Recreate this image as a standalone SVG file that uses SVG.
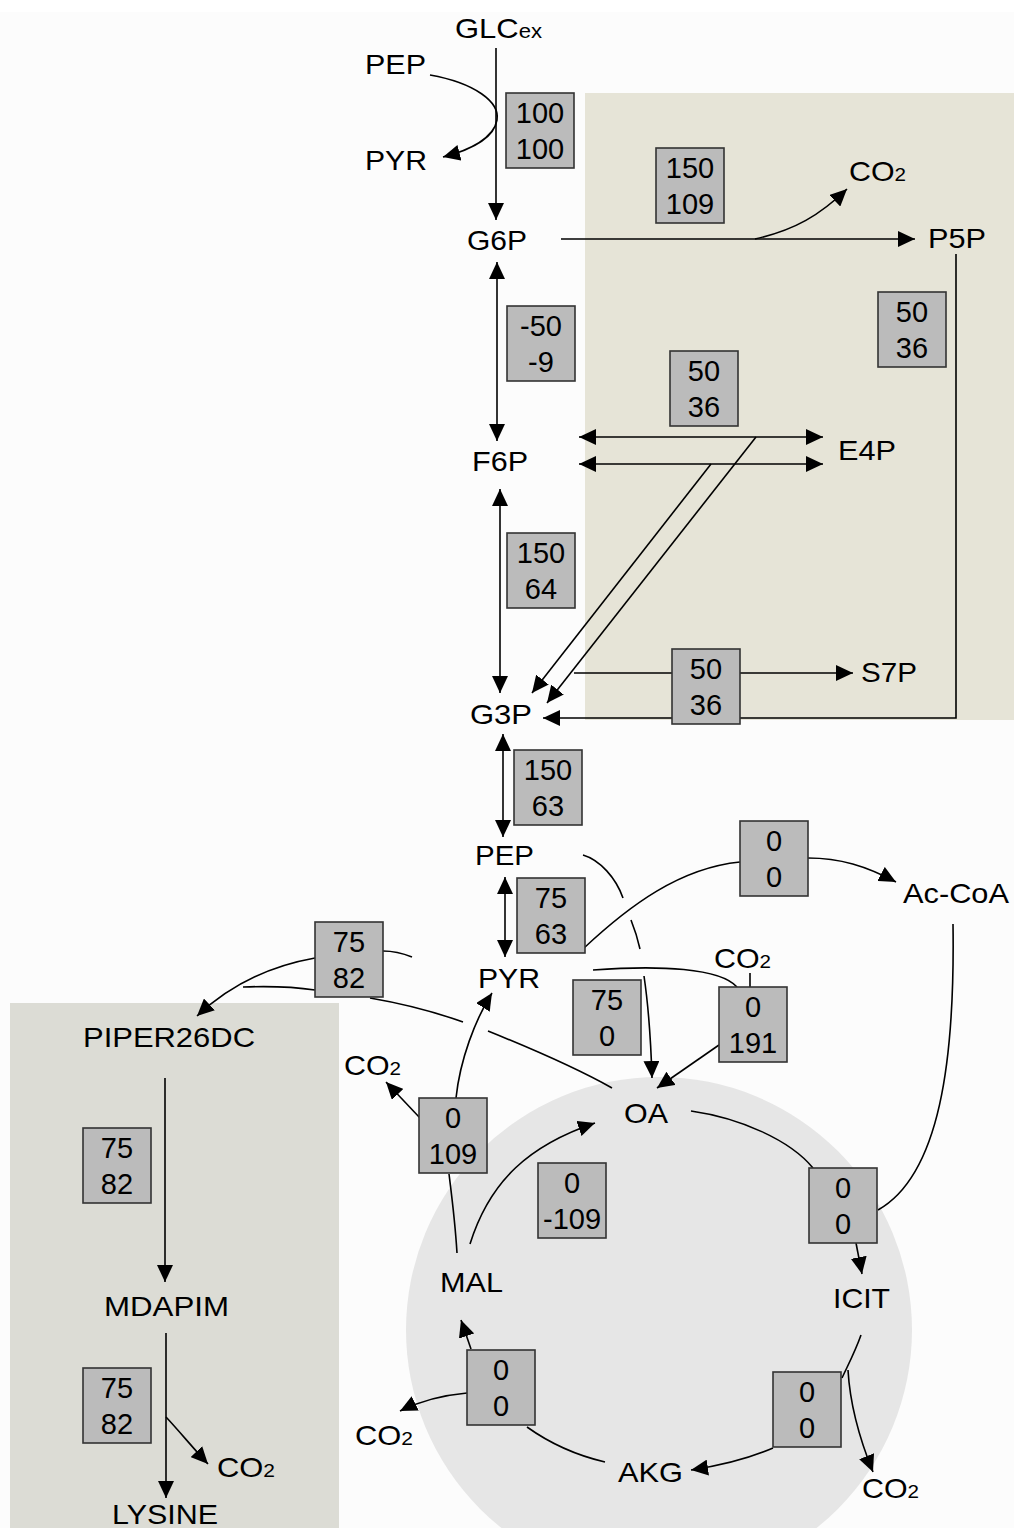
<svg xmlns="http://www.w3.org/2000/svg" width="1014" height="1528" viewBox="0 0 1014 1528">
<defs>
<style>
.lbl{font-family:"Liberation Sans",Arial,sans-serif;font-size:28px;fill:#000}
.num{font-family:"Liberation Sans",Arial,sans-serif;font-size:29px;fill:#000;text-anchor:middle}
.box{fill:#bbbbbb;stroke:#333;stroke-width:1.6}
.ln{fill:none;stroke:#000;stroke-width:1.6}
.a{marker-end:url(#ah)}
.aa{marker-end:url(#ah);marker-start:url(#ah)}
</style>
<marker id="ah" viewBox="0 0 17 16" refX="17" refY="8" markerWidth="17" markerHeight="16" markerUnits="userSpaceOnUse" orient="auto-start-reverse">
<path d="M0,0 L17,8 L0,16 z" fill="#000"/>
</marker>
</defs>
<rect x="0" y="0" width="1014" height="1528" fill="#fcfcfc"/>
<rect x="0" y="0" width="1014" height="12" fill="#ffffff"/>
<g id="regions">
<rect x="585" y="93" width="429" height="627" fill="#e6e4d7"/>
<rect x="10" y="1003" width="329" height="525" fill="#dcdcd5"/>
<circle cx="659" cy="1330" r="253" fill="#e6e6e6"/>
</g>
<g id="connectors">
<path class="ln a" d="M496,48 L496,220"/>
<path class="ln a" d="M430,75 C475,83 500,102 497,120 C494,138 470,150 443,157"/>
<path class="ln a" d="M561,239 L915,239"/>
<path class="ln a" d="M755,239 C795,230 820,215 847,189"/>
<path class="ln a" d="M956,254 L956,718 L543,718"/>
<path class="ln a" d="M574,673 L853,673"/>
<path class="ln aa" d="M579,437 L823,437"/>
<path class="ln aa" d="M579,464 L823,464"/>
<path class="ln a" d="M756,437 L547,703"/>
<path class="ln a" d="M711,464 L532,693"/>
<path class="ln aa" d="M497,262 L497,441"/>
<path class="ln aa" d="M500,489 L500,693"/>
<path class="ln aa" d="M503,734 L503,837"/>
<path class="ln aa" d="M505,877 L505,957"/>
<path class="ln" d="M584,948 C630,905 680,868 740,862"/>
<path class="ln a" d="M808,858 C840,858 866,866 896,882"/>
<path class="ln" d="M953,924 C955,1060 940,1175 878,1210"/>
<path class="ln" d="M583,855 C600,860 616,878 623,898"/>
<path class="ln" d="M631,920 C635,930 638,940 640,949"/>
<path class="ln a" d="M644,976 C649,1010 651,1045 652,1078"/>
<path class="ln a" d="M719,1045 L657,1088"/>
<path class="ln" d="M593,970 C660,965 720,968 737,987"/>
<path class="ln" d="M750,973 L750,987"/>
<path class="ln" d="M412,957 C402,953 392,951 383,951"/>
<path class="ln a" d="M315,958 C270,966 230,985 197,1016"/>
<path class="ln" d="M243,987 C270,986 295,987 315,990"/>
<path class="ln" d="M370,998 C405,1004 435,1012 463,1022"/>
<path class="ln" d="M488,1031 C540,1052 580,1070 612,1088"/>
<path class="ln" d="M457,1253 C455,1220 451,1190 449,1174"/>
<path class="ln a" d="M456,1098 C460,1060 475,1020 492,993"/>
<path class="ln a" d="M420,1118 L386,1082"/>
<path class="ln a" d="M470,1244 C490,1180 530,1145 595,1123"/>
<path class="ln" d="M691,1111 C740,1118 790,1140 813,1168"/>
<path class="ln a" d="M856,1243 L862,1274"/>
<path class="ln" d="M861,1335 C855,1352 848,1365 842,1378"/>
<path class="ln a" d="M848,1370 C850,1405 860,1440 873,1472"/>
<path class="ln a" d="M773,1448 C750,1458 725,1465 691,1470"/>
<path class="ln" d="M605,1462 C575,1455 548,1442 527,1427"/>
<path class="ln a" d="M471,1349 L461,1320"/>
<path class="ln a" d="M467,1393 C445,1395 422,1400 400,1411"/>
<path class="ln a" d="M165,1078 L165,1282"/>
<path class="ln a" d="M166,1333 L166,1498"/>
<path class="ln a" d="M166,1417 C180,1432 193,1448 208,1464"/>
</g>
<g id="nodes">
<g id="n-glcex"><text class="lbl" x="455" y="38" textLength="87" lengthAdjust="spacingAndGlyphs">GLC<tspan font-size="20">ex</tspan></text></g>
<g id="n-pep1"><text class="lbl" x="365" y="74" textLength="61" lengthAdjust="spacingAndGlyphs">PEP</text></g>
<g id="n-pyr1"><text class="lbl" x="365" y="170" textLength="62" lengthAdjust="spacingAndGlyphs">PYR</text></g>
<g id="n-g6p"><text class="lbl" x="467" y="250" textLength="60" lengthAdjust="spacingAndGlyphs">G6P</text></g>
<g id="n-p5p"><text class="lbl" x="928" y="248" textLength="58" lengthAdjust="spacingAndGlyphs">P5P</text></g>
<g id="n-co2a"><text class="lbl" x="849" y="181" textLength="57" lengthAdjust="spacingAndGlyphs">CO<tspan font-size="19">2</tspan></text></g>
<g id="n-f6p"><text class="lbl" x="472" y="471" textLength="56" lengthAdjust="spacingAndGlyphs">F6P</text></g>
<g id="n-e4p"><text class="lbl" x="838" y="460" textLength="58" lengthAdjust="spacingAndGlyphs">E4P</text></g>
<g id="n-s7p"><text class="lbl" x="861" y="682" textLength="56" lengthAdjust="spacingAndGlyphs">S7P</text></g>
<g id="n-g3p"><text class="lbl" x="470" y="724" textLength="62" lengthAdjust="spacingAndGlyphs">G3P</text></g>
<g id="n-pep2"><text class="lbl" x="475" y="865" textLength="59" lengthAdjust="spacingAndGlyphs">PEP</text></g>
<g id="n-pyr2"><text class="lbl" x="478" y="988" textLength="62" lengthAdjust="spacingAndGlyphs">PYR</text></g>
<g id="n-accoa"><text class="lbl" x="903" y="903" textLength="106" lengthAdjust="spacingAndGlyphs">Ac-CoA</text></g>
<g id="n-co2b"><text class="lbl" x="714" y="968" textLength="57" lengthAdjust="spacingAndGlyphs">CO<tspan font-size="19">2</tspan></text></g>
<g id="n-piper"><text class="lbl" x="83" y="1047" textLength="172" lengthAdjust="spacingAndGlyphs">PIPER26DC</text></g>
<g id="n-co2c"><text class="lbl" x="344" y="1075" textLength="57" lengthAdjust="spacingAndGlyphs">CO<tspan font-size="19">2</tspan></text></g>
<g id="n-oa"><text class="lbl" x="624" y="1123" textLength="44" lengthAdjust="spacingAndGlyphs">OA</text></g>
<g id="n-mal"><text class="lbl" x="440" y="1292" textLength="63" lengthAdjust="spacingAndGlyphs">MAL</text></g>
<g id="n-icit"><text class="lbl" x="833" y="1308" textLength="57" lengthAdjust="spacingAndGlyphs">ICIT</text></g>
<g id="n-mdapim"><text class="lbl" x="104" y="1316" textLength="125" lengthAdjust="spacingAndGlyphs">MDAPIM</text></g>
<g id="n-co2d"><text class="lbl" x="355" y="1445" textLength="58" lengthAdjust="spacingAndGlyphs">CO<tspan font-size="19">2</tspan></text></g>
<g id="n-akg"><text class="lbl" x="618" y="1482" textLength="65" lengthAdjust="spacingAndGlyphs">AKG</text></g>
<g id="n-co2e"><text class="lbl" x="862" y="1498" textLength="57" lengthAdjust="spacingAndGlyphs">CO<tspan font-size="19">2</tspan></text></g>
<g id="n-co2f"><text class="lbl" x="217" y="1477" textLength="58" lengthAdjust="spacingAndGlyphs">CO<tspan font-size="19">2</tspan></text></g>
<g id="n-lysine"><text class="lbl" x="112" y="1524" textLength="106" lengthAdjust="spacingAndGlyphs">LYSINE</text></g>
</g>
<g id="fluxes">
<g id="f1"><rect class="box" x="506" y="93" width="68" height="75"/><text class="num" x="540" y="123">100</text><text class="num" x="540" y="159">100</text></g>
<g id="f2"><rect class="box" x="656" y="148" width="68" height="75"/><text class="num" x="690" y="178">150</text><text class="num" x="690" y="214">109</text></g>
<g id="f3"><rect class="box" x="507" y="306" width="68" height="75"/><text class="num" x="541" y="336">-50</text><text class="num" x="541" y="372">-9</text></g>
<g id="f4"><rect class="box" x="878" y="292" width="68" height="75"/><text class="num" x="912" y="322">50</text><text class="num" x="912" y="358">36</text></g>
<g id="f5"><rect class="box" x="670" y="351" width="68" height="75"/><text class="num" x="704" y="381">50</text><text class="num" x="704" y="417">36</text></g>
<g id="f6"><rect class="box" x="507" y="533" width="68" height="75"/><text class="num" x="541" y="563">150</text><text class="num" x="541" y="599">64</text></g>
<g id="f7"><rect class="box" x="672" y="649" width="68" height="75"/><text class="num" x="706" y="679">50</text><text class="num" x="706" y="715">36</text></g>
<g id="f8"><rect class="box" x="514" y="750" width="68" height="75"/><text class="num" x="548" y="780">150</text><text class="num" x="548" y="816">63</text></g>
<g id="f9"><rect class="box" x="517" y="878" width="68" height="75"/><text class="num" x="551" y="908">75</text><text class="num" x="551" y="944">63</text></g>
<g id="f10"><rect class="box" x="740" y="821" width="68" height="75"/><text class="num" x="774" y="851">0</text><text class="num" x="774" y="887">0</text></g>
<g id="f11"><rect class="box" x="315" y="922" width="68" height="75"/><text class="num" x="349" y="952">75</text><text class="num" x="349" y="988">82</text></g>
<g id="f12"><rect class="box" x="573" y="980" width="68" height="75"/><text class="num" x="607" y="1010">75</text><text class="num" x="607" y="1046">0</text></g>
<g id="f13"><rect class="box" x="719" y="987" width="68" height="75"/><text class="num" x="753" y="1017">0</text><text class="num" x="753" y="1053">191</text></g>
<g id="f14"><rect class="box" x="419" y="1098" width="68" height="75"/><text class="num" x="453" y="1128">0</text><text class="num" x="453" y="1164">109</text></g>
<g id="f15"><rect class="box" x="538" y="1163" width="68" height="75"/><text class="num" x="572" y="1193">0</text><text class="num" x="572" y="1229">-109</text></g>
<g id="f16"><rect class="box" x="809" y="1168" width="68" height="75"/><text class="num" x="843" y="1198">0</text><text class="num" x="843" y="1234">0</text></g>
<g id="f17"><rect class="box" x="83" y="1128" width="68" height="75"/><text class="num" x="117" y="1158">75</text><text class="num" x="117" y="1194">82</text></g>
<g id="f18"><rect class="box" x="467" y="1350" width="68" height="75"/><text class="num" x="501" y="1380">0</text><text class="num" x="501" y="1416">0</text></g>
<g id="f19"><rect class="box" x="773" y="1372" width="68" height="75"/><text class="num" x="807" y="1402">0</text><text class="num" x="807" y="1438">0</text></g>
<g id="f20"><rect class="box" x="83" y="1368" width="68" height="75"/><text class="num" x="117" y="1398">75</text><text class="num" x="117" y="1434">82</text></g>
</g>
</svg>
